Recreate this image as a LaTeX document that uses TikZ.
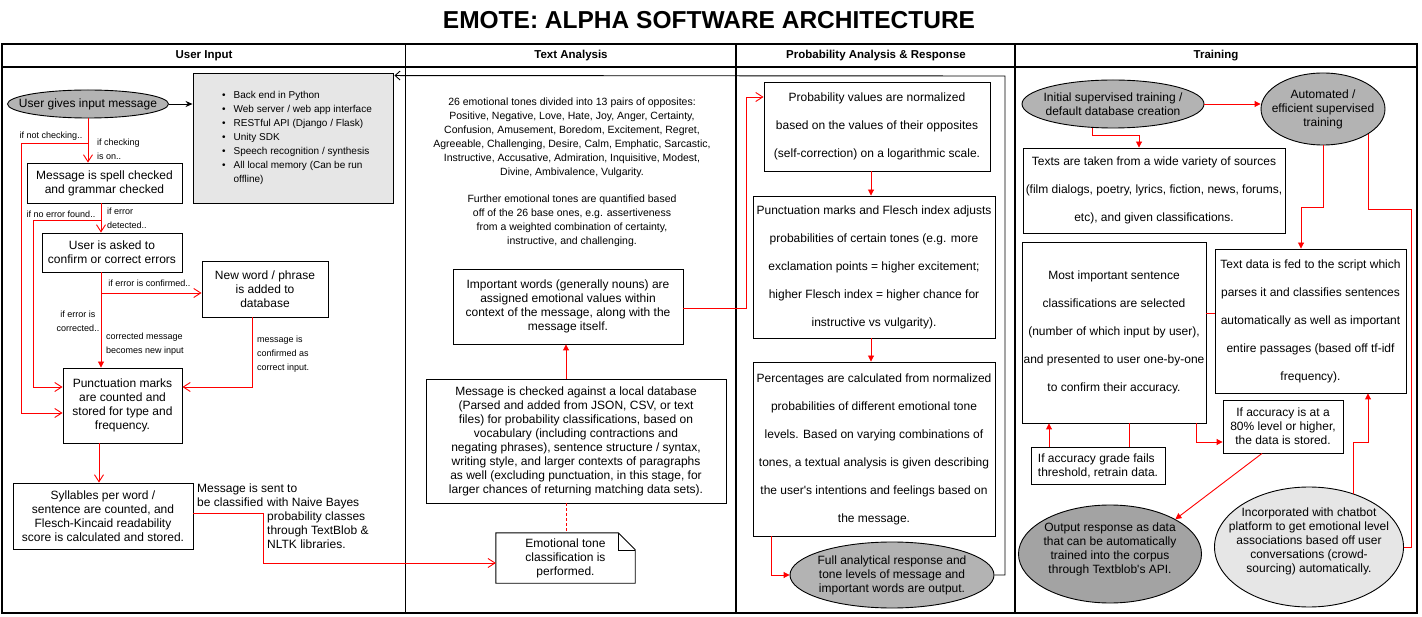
\documentclass[tikz,border=0pt]{standalone}
\usepackage{fontspec}
\setmainfont{Liberation Sans}
\usetikzlibrary{arrows.meta,shapes.geometric,calc}
\newcommand\myfs[2]{\fontsize{#1}{#2}\selectfont}
\definecolor{grayA}{HTML}{B3B3B3}
\definecolor{grayB}{HTML}{E6E6E6}
\definecolor{grayC}{HTML}{A3A3A3}
\begin{document}
\begin{tikzpicture}[x=1pt,y=-1pt,
  box/.style={draw, line width=0.9pt, align=center, inner sep=0pt, font=\myfs{12}{14}},
  dbox/.style={box, font=\myfs{12}{28}},
  ell/.style={ellipse, draw, line width=0.9pt, inner sep=0pt, fill=grayA},
  txt/.style={align=center, inner sep=0pt, font=\myfs{12}{14}},
  lbl/.style={font=\myfs{9}{14}, inner sep=0pt, align=left},
  hdr/.style={font=\bfseries\myfs{11.5}{14}, inner sep=0pt},
  rl/.style={draw=red, line width=0.9pt},
  rv/.style={rl, -{Straight Barb[length=7pt,width=9pt]}},
  rf/.style={rl, -{Triangle[length=6pt,width=6pt]}},
  tline/.style={line width=1.2pt},
]
\fill[white] (0,0) rectangle (1422,617);
\useasboundingbox (0,0) rectangle (1422,617);

% title and table
\node[font=\bfseries\myfs{24.5}{24}] (title) at (709,20.5) {EMOTE: ALPHA SOFTWARE ARCHITECTURE};
\draw[tline] (2,44) rectangle (1417,613);
\draw[tline] (2,67) -- (1417,67);
\foreach \x in {405.5,736,1015} \draw[tline] (\x,44) -- (\x,613);
\node[hdr] (h1) at (204,56) {User Input};
\node[hdr] (h2) at (571,56) {Text Analysis};
\node[hdr] (h3) at (876,56) {Probability Analysis \& Response};
\node[hdr] (h4) at (1216,56) {Training};

% ---------- User input ----------
\node[ell, minimum width=161, minimum height=28] (uin) at (88,104) {};
\node[txt] (uint) at (uin) {User gives input message};
\node[draw, line width=0.9pt, fill=grayB, minimum width=200, minimum height=130, inner sep=0pt, font=\myfs{10}{14}] (tech) at (293,138)
 {\hspace*{8pt}\begin{tabular}{@{}c@{\hspace{8pt}}l@{}}
 \textbullet & Back end in Python\\
 \textbullet & Web server / web app interface\\
 \textbullet & RESTful API (Django / Flask)\\
 \textbullet & Unity SDK\\
 \textbullet & Speech recognition / synthesis\\
 \textbullet & All local memory (Can be run\\
 & offline)
 \end{tabular}};
\node[box, minimum width=155, minimum height=40] (spell) at (104.5,183) {Message is spell checked\\and grammar checked};
\node[box, minimum width=140, minimum height=39] (conf) at (112,252.5) {User is asked to\\confirm or correct errors};
\node[box, minimum width=126, minimum height=56] (neww) at (265,289) {New word / phrase\\is added to\\database};
\node[box, minimum width=119, minimum height=75] (punct) at (122.5,405.5) {Punctuation marks\\are counted and\\stored for type and\\frequency.};
\node[box, minimum width=180, minimum height=66] (syll) at (103,516) {Syllables per word /\\sentence are counted, and\\Flesch-Kincaid readability\\score is calculated and stored.};

\coordinate (vx) at (101,0);
\coordinate (b1) at (88,143);
\coordinate (b2) at (101,220);
\coordinate (b3) at (101,293);

\draw[line width=0.9pt, -{Stealth[length=7pt,width=6pt]}] (uin.east) -- (tech.west |- uin.east);
\draw[rv] (uin.south) -- (uin.south |- spell.north);
\draw[rv] (b1) -- (21,143) -- (21,413) -- (punct.west |- 0,413);
\draw[rv] (spell.south -| vx) -- (conf.north -| vx);
\draw[rv] (b2) -- (33,220) -- (33,387) -- (punct.west |- 0,387);
\draw[rf] (conf.south -| vx) -- (punct.north -| vx);
\draw[rv] (b3) -- (neww.west |- b3);
\draw[rv] (neww.south -| 252,0) -- (252,387) -- (punct.east |- 0,387);
\draw[rv] (punct.south -| 99,0) -- (syll.north -| 99,0);

\node[lbl] (l1) at (51,136) {if not checking..};
\node[lbl, anchor=west] (l2) at (97,149) {if checking\\is on..};
\node[lbl] (l3) at (61,214) {if no error found..};
\node[lbl, anchor=west] (l4) at (107,218) {if error\\detected..};
\node[lbl] (l5) at (149.5,283) {if error is confirmed..};
\node[lbl, align=center] (l6) at (78,321) {if error is\\corrected..};
\node[lbl, anchor=west] (l7) at (106,344) {corrected message\\becomes new input};
\node[lbl, anchor=west] (l8) at (257,354) {message is\\confirmed as\\correct input.};
\node[txt, align=left, anchor=west] (s1) at (197,495) {Message is sent to\\be classified};
\node[txt, align=left, anchor=west] (s2) at (267,523) {with Naive Bayes\\probability classes\\through TextBlob \&\\NLTK libraries.};

% ---------- Text analysis ----------
\node[align=center, inner sep=0pt, font=\myfs{10.5}{14}] (tones) at (572,137.5)
 {26 emotional tones divided into 13 pairs of opposites:\\Positive, Negative, Love, Hate, Joy, Anger, Certainty,\\Confusion, Amusement, Boredom, Excitement, Regret,\\Agreeable, Challenging, Desire, Calm, Emphatic, Sarcastic,\\Instructive, Accusative, Admiration, Inquisitive, Modest,\\Divine, Ambivalence, Vulgarity.};
\node[align=center, inner sep=0pt, font=\myfs{10.5}{14}] (further) at (572,221)
 {Further emotional tones are quantified based\\off of the 26 base ones, e.g. assertiveness\\from a weighted combination of certainty,\\instructive, and challenging.};
\node[box, minimum width=230, minimum height=75] (imp) at (568,306.5) {Important words (generally nouns) are\\assigned emotional values within\\context of the message, along with the\\message itself.};
\node[box, minimum width=300, minimum height=124] (msg) at (576,441) {Message is checked against a local database\\(Parsed and added from JSON, CSV, or text\\files) for probability classifications, based on\\vocabulary (including contractions and\\negating phrases), sentence structure / syntax,\\writing style, and larger contexts of paragraphs\\as well (excluding punctuation, in this stage, for\\larger chances of returning matching data sets).};
\node[txt, minimum width=139, minimum height=50] (note) at (565.5,558) {Emotional tone\\classification is\\performed.};
\draw[line width=0.9pt] (note.north west) -- ($(note.north east)+(-17,0)$) -- ($(note.north east)+(0,17)$) -- (note.south east) -- (note.south west) -- cycle;
\draw[line width=0.6pt] ($(note.north east)+(-17,0)$) -- ($(note.north east)+(-17,17)$) -- ($(note.north east)+(0,17)$);
\coordinate (tx) at (566,0);
\draw[rf] (msg.north -| tx) -- (imp.south -| tx);
\draw[rl, dash pattern=on 3pt off 2pt] (msg.south -| tx) -- (note.north -| tx);
\draw[rv] (syll.east |- 0,513) -- (263,513) -- (263,563) -- (note.west |- 0,563);

% ---------- Probability ----------
\node[dbox, minimum width=226, minimum height=89] (p1) at (877,126.5) {Probability values are normalized\\based on the values of their opposites\\(self-correction) on a logarithmic scale.};
\node[dbox, minimum width=242, minimum height=142] (p2) at (874,267) {Punctuation marks and Flesch index adjusts\\probabilities of certain tones (e.g. more\\exclamation points = higher excitement;\\higher Flesch index = higher chance for\\instructive vs vulgarity).};
\node[dbox, minimum width=242, minimum height=174] (p3) at (874,449) {Percentages are calculated from normalized\\probabilities of different emotional tone\\levels. Based on varying combinations of\\tones, a textual analysis is given describing\\the user\textquotesingle s intentions and feelings based on\\the message.};
\node[ell, minimum width=204, minimum height=66] (pout) at (892,575) {};
\node[txt] (poutt) at (pout) {Full analytical response and\\tone levels of message and\\important words are output.};
\coordinate (px) at (871,0);
\draw[rv] (imp.east |- 0,308) -- (746,308) -- (746,97) -- (p1.west |- 0,97);
\draw[rf] (p1.south -| px) -- (p2.north -| px);
\draw[rf] (p2.south -| px) -- (p3.north -| px);
\draw[rf] (p3.south -| 771,0) -- (771,575) -- (pout.west);
\draw[line width=0.9pt, -{Straight Barb[length=5pt,width=9pt]}] (pout.east) -- (1005,575) -- (1005,76) -- ($(tech.north east)+(1,3)$);

% ---------- Training ----------
\node[ell, minimum width=182, minimum height=48] (e1) at (1113,104) {};
\node[txt] (e1t) at (e1) {Initial supervised training /\\default database creation};
\node[ell, minimum width=124, minimum height=72] (e2) at (1323,109) {};
\node[txt] (e2t) at (e2) {Automated /\\efficient supervised\\training};
\node[dbox, minimum width=262, minimum height=85] (t1) at (1154,190.5) {Texts are taken from a wide variety of sources\\(film dialogs, poetry, lyrics, fiction, news, forums,\\etc), and given classifications.};
\node[dbox, minimum width=184, minimum height=181] (t3) at (1114,332.5) {Most important sentence\\classifications are selected\\(number of which input by user),\\and presented to user one-by-one\\to confirm their accuracy.};
\node[dbox, minimum width=191, minimum height=144] (t2) at (1310.5,321) {Text data is fed to the script which\\parses it and classifies sentences\\automatically as well as important\\entire passages (based off tf-idf\\frequency).};
\node[box, minimum width=120, minimum height=53] (t4) at (1283,426.5) {If accuracy is at a\\80\% level or higher,\\the data is stored.};
\node[box, align=left, minimum width=134, minimum height=37] (t5) at (1098,465.5) {If accuracy grade fails\\threshold, retrain data.};
\node[ell, fill=grayC, minimum width=183, minimum height=98] (out) at (1110,554) {};
\node[txt] (outt) at (1110,549) {Output response as data\\that can be automatically\\trained into the corpus\\through Textblob\textquotesingle s API.};
\node[ell, fill=grayB, minimum width=189, minimum height=120] (chat) at (1309,547) {};
\node[txt] (chatt) at (1309,541) {Incorporated with chatbot\\platform to get emotional level\\associations based off user\\conversations (crowd-\\sourcing) automatically.};

\draw[rf] (e1.east) -- (e1.east -| e2.west);
\draw[rf] (e1.south -| 1092,0) -- (1092,135) -- (1139,135) -- (t1.north -| 1139,0);
\draw[rf] (e2.south) -- (1323,207) -- (1301,207) -- (t2.north -| 1301,0);
\draw[rl] (chat.east) -- (1411,547) -- (1411,209) -- (e2.-29 |- 0,209) -- (e2.-29);
\draw[rl] (t3.east |- 0,313) -- (t2.west |- 0,313);
\draw[rf] (t5.north -| 1049,0) -- (t3.south -| 1049,0);
\draw[rl] (t3.south -| 1129,0) -- (t5.north -| 1129,0);
\draw[rf] (t3.south -| 1196,0) -- (1196,442) -- (t4.west |- 0,442);
\draw[rf] (t4.south -| 1262,0) -- (out.28);
\draw[rf] (chat.50) -- (chat.50 |- 0,442) -- (1368,442) -- (t2.south -| 1368,0);
\end{tikzpicture}
\end{document}
